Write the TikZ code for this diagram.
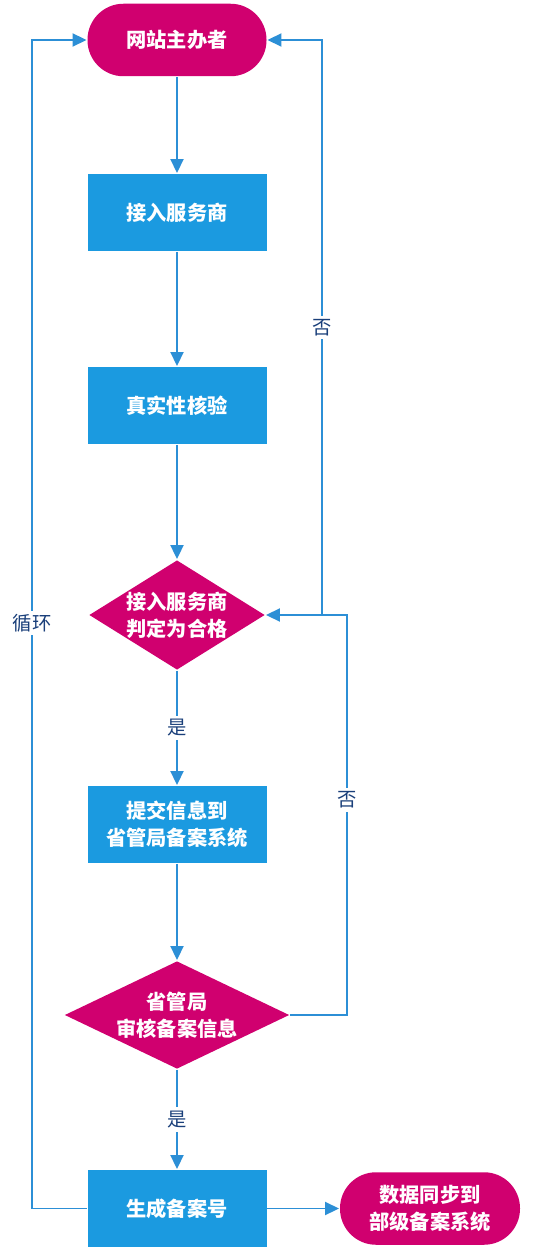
\documentclass[tikz,border=0pt]{standalone}
\usepackage{fontspec}
\setmainfont{Noto Sans CJK SC}
\usetikzlibrary{shapes.geometric,arrows.meta,positioning}
\definecolor{rosered}{HTML}{D0006F}
\definecolor{boxblue}{HTML}{1B9AE0}
\definecolor{lineblue}{HTML}{2C8FD6}
\definecolor{tagblue}{HTML}{1A3F7A}

\begin{document}
\begin{tikzpicture}[node distance=3.8cm,>={Triangle[length=0.28cm,width=0.26cm]},
    line width=1.1pt,
    terminal/.style={rectangle,rounded corners=0.72cm,fill=rosered,text=white,
      minimum width=3.58cm,minimum height=1.45cm,align=center,
      font=\fontsize{11.5}{15.5}\selectfont\bfseries},
    stepbox/.style={rectangle,fill=boxblue,text=white,minimum width=3.58cm,
      minimum height=1.54cm,align=center,font=\fontsize{11.5}{15.5}\selectfont\bfseries},
    decision/.style={diamond,aspect=1.6,inner sep=0pt,fill=rosered,text=white,
      align=center,font=\fontsize{11.5}{15.5}\selectfont\bfseries},
    tag/.style={fill=white,text=tagblue,inner sep=2pt,font=\fontsize{11}{13}\selectfont},
    flow/.style={->,draw=lineblue}]
    \useasboundingbox[fill=white] (0,0) rectangle (10.88,-25.04);
    % main column
    \node[terminal] (host) at (3.54,-0.80) {网站主办者};
    \node[stepbox] (isp) [below of=host, node distance=3.45cm] {接入服务商};
    \node[stepbox] (verify) [below of=isp, node distance=3.86cm] {真实性核验};
    \node[decision, minimum width=3.52cm, minimum height=2.18cm] (judge)
      [below of=verify, node distance=4.19cm] {接入服务商\\判定为合格};
    \node[stepbox] (submit) [below of=judge, node distance=4.19cm] {提交信息到\\省管局备案系统};
    \node[decision, aspect=2.08, minimum width=4.5cm, minimum height=2.16cm] (audit)
      [below of=submit, node distance=3.81cm] {省管局\\审核备案信息};
    \node[stepbox] (number) [below of=audit, node distance=3.87cm] {生成备案号};
    \node[terminal, minimum width=3.6cm] (sync) [right of=number, node distance=5.06cm] {数据同步到\\部级备案系统};
    % turning points
    \coordinate (loopL) at (0.64,-12.46);
    \coordinate (backB) at (6.94,-16.00);
    \coordinate (fork) at (6.44,-12.30);
    % straight flow
    \draw[flow] (host) -- (isp);
    \draw[flow] (isp) -- (verify);
    \draw[flow] (verify) -- (judge);
    \draw[flow] (judge) -- node[tag]{是} (submit);
    \draw[flow] (submit) -- (audit);
    \draw[flow] (audit) -- node[tag]{是} (number);
    \draw[flow] (number) -- (sync);
    % loops back
    \draw[flow] (number.west) -| (loopL) |- (host.west);
    \node[tag] at (loopL) {循环};
    \draw[flow] (audit.east) -| (backB) |- (judge.east);
    \node[tag] at (backB) {否};
    \draw[flow] (fork) -- node[tag]{否} (fork |- host.east) -- (host.east);
  \end{tikzpicture}
\end{document}
